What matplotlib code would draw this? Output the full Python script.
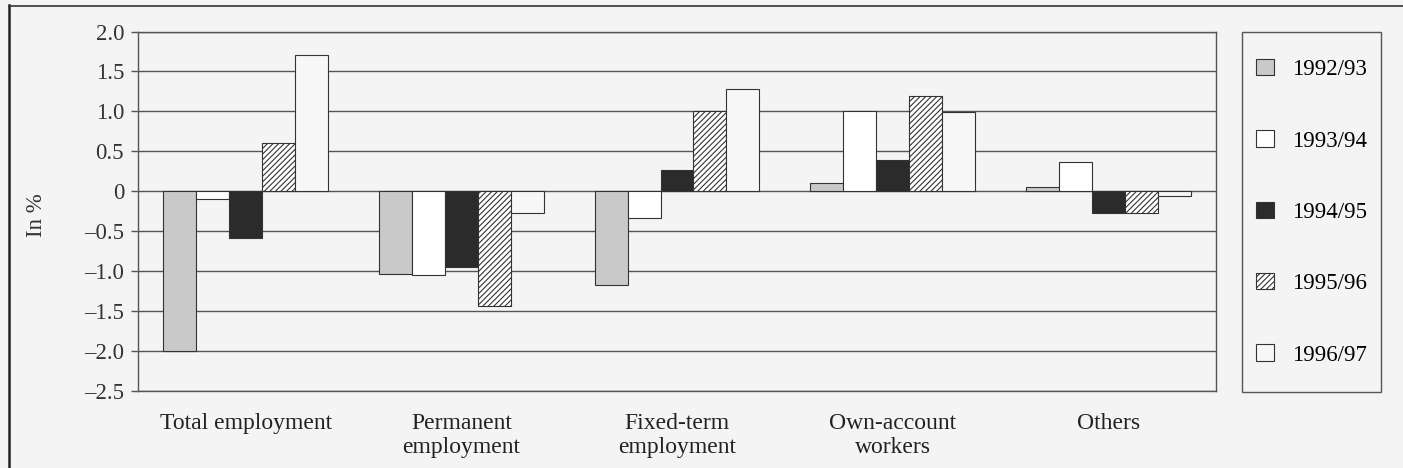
import matplotlib.pyplot as plt
import numpy as np
from matplotlib.patches import Patch, Rectangle
from matplotlib.lines import Line2D

plt.rcParams['font.family'] = ['Liberation Serif', 'DejaVu Serif']
plt.rcParams['hatch.linewidth'] = 0.8

categories = ['Total employment', 'Permanent\nemployment', 'Fixed-term\nemployment',
              'Own-account\nworkers', 'Others']
periods = ['1992/93', '1993/94', '1994/95', '1995/96', '1996/97']

v_1992 = [-2.00, -1.04, -1.17, 0.10, 0.05]
v_1993 = [-0.10, -1.05, -0.33, 1.00, 0.37]
v_1994 = [-0.59, -0.95, 0.27, 0.39, -0.27]
v_1995 = [0.61, -1.43, 1.00, 1.19, -0.27]
v_1996 = [1.70, -0.27, 1.28, 0.99, -0.06]

series = [v_1992, v_1993, v_1994, v_1995, v_1996]
faces = ['#c9c9c9', 'white', '#2b2b2b', 'white', '#f7f7f7']
hatches = [None, None, None, '//////', None]

fs = 16.5
bg = '#f4f4f4'
W, H = 1403, 468
fig = plt.figure(figsize=(14.03, 4.68), dpi=100, facecolor=bg)
ax = fig.add_axes([138 / W, 1 - 391 / H, (1216 - 138) / W, (391 - 31.5) / H])
ax.set_facecolor(bg)

x = np.arange(len(categories))
w = 0.153
for i, vals in enumerate(series):
    ax.bar(x + (i - 2) * w, vals, w, color=faces[i], edgecolor='#333333',
           linewidth=0.8, hatch=hatches[i], label=periods[i], zorder=3)

ax.set_ylim(-2.5, 2.0)
ax.set_xlim(-0.5, len(categories) - 0.5)
yt = np.arange(-2.5, 2.01, 0.5)
ax.set_yticks(yt)
ax.set_yticklabels(['0' if abs(t) < 1e-9 else f'{t:.1f}'.replace('-', '\u2013') for t in yt],
                   fontsize=fs, color='#333333')
ax.yaxis.grid(True, color='#555555', linewidth=1.0, zorder=1)
ax.tick_params(axis='y', length=5, width=1, color='#555555', pad=5)
ax.set_xticks(x)
ax.set_xticklabels(categories, fontsize=fs + 0.5, color='#222222', linespacing=1.2)
ax.tick_params(axis='x', length=0, pad=15.5)
for sp in ax.spines.values():
    sp.set_color('#555555')
    sp.set_linewidth(1.0)
ax.set_ylabel('In %', fontsize=fs, color='#333333')
ax.yaxis.set_label_coords((47 - 138) / 1078, (391 - 215) / 360)

# legend frame drawn separately so the entries can sit where the reference has them
fig.add_artist(Rectangle((1242 / W, 1 - 392 / H), (1381 - 1242) / W, (392 - 32) / H,
                         transform=fig.transFigure, facecolor=bg, edgecolor='#555555', lw=1.0))
handles = [Patch(facecolor=faces[i], edgecolor='#333333', hatch=hatches[i], linewidth=0.8)
           for i in range(len(periods))]
fig.legend(handles, periods, loc='upper left', bbox_to_anchor=(1256 / W, 1 - 59 / H),
           fontsize=fs, frameon=False, handlelength=0.79, handleheight=0.72,
           handletextpad=0.8, labelspacing=2.19, borderpad=0, borderaxespad=0)

fig.add_artist(Line2D([9 / W, 9 / W], [0, 1 - 5 / H], color='#222222', lw=1.8))
fig.add_artist(Line2D([9 / W, 1], [1 - 5.5 / H, 1 - 5.5 / H], color='#333333', lw=1.2))

fig.savefig('out.png', dpi=100, facecolor=bg)
